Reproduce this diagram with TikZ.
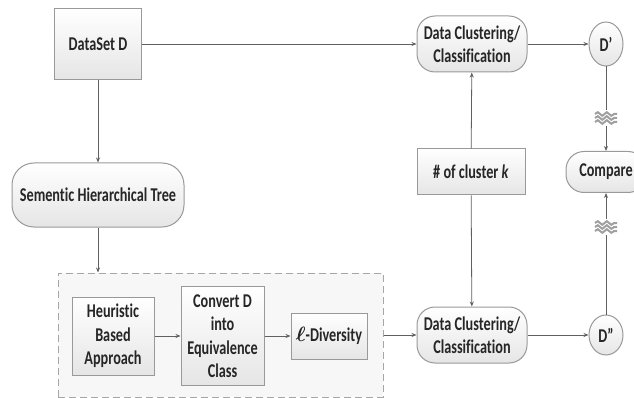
\documentclass[tikz,border=0pt]{standalone}
\usepackage{amsmath}
\usepackage{fontspec}
\setmainfont[FakeStretch=0.73,RawFeature=-liga]{Carlito}
\usetikzlibrary{arrows.meta,positioning,shapes.geometric,decorations.pathmorphing}

\begin{document}
\begin{tikzpicture}[
  x=1pt,y=-1pt,
  >={Stealth[length=5pt,width=4pt]},
  node distance=26pt,
  every node/.style={font=\fontsize{19.5}{23.5}\selectfont\bfseries,text=black!85,align=center},
  box/.style={
    draw=gray!80,
    line width=1pt,
    top color=white,
    bottom color=gray!20,
    inner sep=2pt
  },
  pill/.style={box,rounded corners=18pt},
  dot/.style={box,ellipse,inner sep=0pt},
  group/.style={draw=gray!70,line width=1pt,dash pattern=on 7pt off 4pt,fill=gray!6},
  link/.style={->,draw=gray!75!black,line width=0.8pt},
  brk/.style={draw=gray!75,line width=2pt,decorate,
    decoration={snake,amplitude=1.8pt,segment length=9pt}}
]
  \useasboundingbox (0,0) rectangle (634,398);

  % top row
  \node[box,minimum width=87pt,minimum height=71pt] (data) at (98,44) {DataSet D};
  \node[pill,minimum width=110pt,minimum height=56pt] (clusA) at (472,44) {Data Clustering/\\Classification};
  \node[dot,minimum width=34pt,minimum height=44pt] (dA) at (606,44) {D’};

  % middle row
  \node[pill,rounded corners=22pt,minimum width=172pt,minimum height=64pt] (tree) at (98,195) {Sementic Hierarchical Tree};
  \node[box,minimum width=108pt,minimum height=46pt] (num) at (471,172) {\# of cluster \textit{k}};
  \node[pill,minimum width=80pt,minimum height=41pt] (cmp) at (606,172) {Compare};

  % anonymisation group
  \node[group,minimum width=325pt,minimum height=124pt] (grp) at (220.5,335) {};
  \node[box,minimum width=82pt,minimum height=78pt] (heur) at (113,336) {Heuristic\\Based\\Approach};
  \node[box,right=of heur,minimum width=83pt,minimum height=99pt] (conv) {Convert D\\into\\Equivalence\\Class};
  \node[box,right=of conv,minimum width=76pt,minimum height=46pt] (div) {$\boldsymbol{\ell}$-Diversity};

  % bottom row
  \node[pill,minimum width=110pt,minimum height=56pt] (clusB) at (472,335) {Data Clustering/\\Classification};
  \node[dot,minimum width=34pt,minimum height=40pt] (dB) at (606,335) {D”};

  \draw[link] (data) -- (clusA);
  \draw[link] (clusA) -- (dA);
  \draw[link] (data) -- (tree);
  \draw[link] (tree) -- (tree.south |- grp.north);
  \draw[link] (heur) -- (conv);
  \draw[link] (conv) -- (div);
  \draw[link] (grp.east |- clusB.west) -- (clusB.west);
  \draw[link] (num) -- (clusA);
  \draw[link] (num) -- (clusB);
  \draw[link] (clusB) -- (dB);
  \draw[link] (dA) -- (cmp);
  \draw[link] (dB) -- (cmp);

  % break marks
  \foreach \y in {118,227} {
    \fill[white] (592,\y-8) rectangle (620,\y+8);
    \foreach \d in {-4,0,4}
      \draw[brk] (595,\y+\d) -- (617,\y+\d);
  }
\end{tikzpicture}
\end{document}
